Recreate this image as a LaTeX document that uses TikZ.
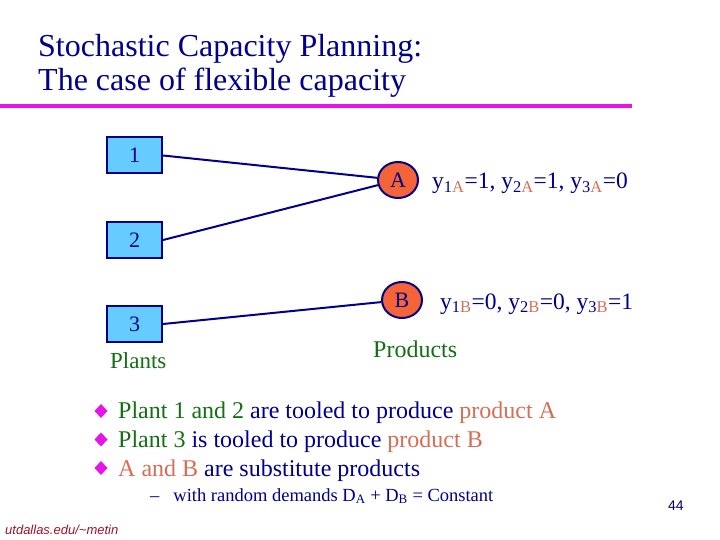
\documentclass[tikz,border=0pt]{standalone}
\usepackage{fontspec}
\setmainfont{Liberation Serif}
\setsansfont{Liberation Sans}
\usetikzlibrary{shapes.geometric}
\definecolor{navy}{RGB}{0,0,140}
\definecolor{boxblue}{RGB}{102,204,255}
\definecolor{circred}{RGB}{245,100,55}
\definecolor{plgreen}{RGB}{20,110,20}
\definecolor{prod}{RGB}{214,110,85}
\definecolor{mag}{RGB}{230,20,230}
\definecolor{footred}{RGB}{160,20,40}
\newcommand{\fsz}[1]{\fontsize{#1}{#1}\selectfont}
\begin{document}
\begin{tikzpicture}[x=1pt,y=-1pt,
  plant/.style={draw=navy, line width=2pt, fill=boxblue, minimum width=55pt, minimum height=36pt, inner sep=0pt, text=navy, font=\fsz{22}},
  prodc/.style={ellipse, draw=navy, line width=2pt, fill=circred, minimum width=40pt, minimum height=36pt, inner sep=0pt, text=navy, font=\fsz{22}},
  link/.style={navy, line width=2pt},
  txt/.style={anchor=base west, inner sep=0pt, text=navy}
]
\useasboundingbox (0,0) rectangle (720,540);
% title
\node[txt, font=\fsz{32}] (t1) at (38,57) {Stochastic Capacity Planning:};
\node[txt, font=\fsz{32}] (t2) at (38,91) {The case of flexible capacity};
\fill[mag] (0,104.5) rectangle (632,108.5);
% plants
\node[plant] (p1) at (134.5,155.5) {1};
\node[plant] (p2) at (134.5,240) {2};
\node[plant] (p3) at (134.5,324) {3};
\node[txt, text=plgreen, font=\fsz{23}] (pl) at (110,368) {Plants};
% products
\node[prodc] (A) at (398,180) {A};
\node[prodc] (B) at (402,300) {B};
\node[txt, text=plgreen, font=\fsz{24}] (pr) at (373,357) {Products};
\draw[link] (p1.east) -- (A);
\draw[link] (p2.east) -- (A);
\draw[link] (p3.east) -- (B);
% y labels
\node[txt, font=\fsz{23.5}] (ya) at (432,189) {y\textsubscript{1\textcolor{prod}{A}}=1, y\textsubscript{2\textcolor{prod}{A}}=1, y\textsubscript{3\textcolor{prod}{A}}=0};
\node[txt, font=\fsz{23.5}] (yb) at (440,309) {y\textsubscript{1\textcolor{prod}{B}}=0, y\textsubscript{2\textcolor{prod}{B}}=0, y\textsubscript{3\textcolor{prod}{B}}=1};
% bullets
\foreach \yy in {411,439.5,468}{
  \fill[mag] (101,\yy-7) -- (107.5,\yy) -- (101,\yy+7) -- (94.5,\yy) -- cycle;
}
\node[txt, font=\fsz{24}] (l1) at (118,418) {\textcolor{plgreen}{Plant 1 and 2} are tooled to produce \textcolor{prod}{product A}};
\node[txt, font=\fsz{24}] (l2) at (118,447) {\textcolor{plgreen}{Plant 3} is tooled to produce \textcolor{prod}{product B}};
\node[txt, font=\fsz{24}] (l3) at (118,476) {\textcolor{prod}{A and B} are substitute products};
\node[txt, font=\fsz{18.5}] (l4) at (150,501) {--\hspace{14pt}with random demands D\textsubscript{A} + D\textsubscript{B} = Constant};
% footer
\node[txt, text=footred, font=\sffamily\itshape\fsz{13}] (ft) at (5,534) {utdallas.edu/\textasciitilde metin};
\node[txt, text=navy!70!black, font=\sffamily\fsz{14}] (pg) at (668,510) {44};
\end{tikzpicture}
\end{document}
